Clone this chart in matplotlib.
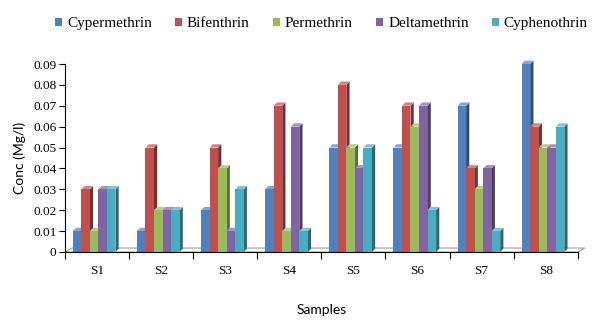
import numpy as np
import matplotlib
matplotlib.use("Agg")
import matplotlib.pyplot as plt
from matplotlib.patches import Polygon
from matplotlib.colors import to_rgb

samples = ["S1", "S2", "S3", "S4", "S5", "S6", "S7", "S8"]
series = ["Cypermethrin", "Bifenthrin", "Permethrin", "Deltamethrin", "Cyphenothrin"]
cypermethrin = [0.01, 0.01, 0.02, 0.03, 0.05, 0.05, 0.07, 0.09]
bifenthrin = [0.03, 0.05, 0.05, 0.07, 0.08, 0.07, 0.04, 0.06]
permethrin = [0.01, 0.02, 0.04, 0.01, 0.05, 0.06, 0.03, 0.05]
deltamethrin = [0.03, 0.02, 0.01, 0.06, 0.04, 0.07, 0.04, 0.05]
cyphenothrin = [0.03, 0.02, 0.03, 0.01, 0.05, 0.02, 0.01, 0.06]
values = [cypermethrin, bifenthrin, permethrin, deltamethrin, cyphenothrin]
colors = ["#4F81BD", "#C0504D", "#9BBB59", "#8064A2", "#4BACC6"]

serif = ["Liberation Serif", "DejaVu Serif"]
sans = ["Lato", "DejaVu Sans"]


def shade(c, f):
    r, g, b = to_rgb(c)
    if f < 1:
        return (r * f, g * f, b * f)
    return (r + (1 - r) * (f - 1), g + (1 - g) * (f - 1), b + (1 - b) * (f - 1))


fig = plt.figure(figsize=(6, 3.2), dpi=100)
ax = fig.add_axes([0.108, 0.2125, 0.855, 0.5875])
ax.set_xlim(0, 8)
ax.set_ylim(0, 0.09)

bw = 0.133
start = 0.125
dx = 0.05
dy = 0.0016

# floor
fdx, fdy = 0.11, 0.0019
floor = Polygon([(0, 0), (8, 0), (8 + fdx, fdy), (fdx, fdy)], closed=True,
                facecolor="white", edgecolor="#A0A0A0", lw=0.8, clip_on=False, zorder=1)
ax.add_patch(floor)

for i in range(len(samples)):
    for j, (vals, c) in enumerate(zip(values, colors)):
        x0 = i + start + j * bw
        x1 = x0 + bw
        h = vals[i]
        z = 2 + j * 0.01
        ax.add_patch(Polygon([(x1, 0), (x1 + dx, dy), (x1 + dx, h + dy), (x1, h)],
                             closed=True, facecolor=shade(c, 0.6), edgecolor="none",
                             clip_on=False, zorder=z))
        ax.add_patch(Polygon([(x0, h), (x1, h), (x1 + dx, h + dy), (x0 + dx, h + dy)],
                             closed=True, facecolor=shade(c, 1.3), edgecolor="none",
                             clip_on=False, zorder=z))
        ax.bar(x0, h, width=bw, align="edge", color=c, edgecolor="none",
               zorder=z, clip_on=False, label=series[j] if i == 0 else None)

for s in ["top", "right"]:
    ax.spines[s].set_visible(False)
ax.spines["left"].set_color("black")
ax.spines["bottom"].set_color("black")
ax.spines["left"].set_linewidth(0.8)
ax.spines["bottom"].set_linewidth(0.8)

ax.set_yticks(np.arange(0, 0.091, 0.01))
ax.set_yticklabels(["0"] + ["%.2f" % v for v in np.arange(0.01, 0.091, 0.01)],
                   family=serif, fontsize=9.5)
ax.set_xticks(np.arange(0, 9))
ax.set_xticklabels([])
ax.set_xticks(np.arange(8) + 0.5, minor=True)
ax.set_xticklabels(samples, minor=True, family=serif, fontsize=9.5)
ax.tick_params(axis="x", which="minor", length=0, pad=9)
ax.tick_params(axis="x", which="major", length=5, width=0.8)
ax.tick_params(axis="y", length=4, width=0.8, pad=2)

ax.set_ylabel("Conc (Mg/l)", family=sans, fontsize=10, labelpad=5)
ax.set_xlabel("Samples", family=sans, fontsize=10, labelpad=20)

ax.legend(loc="center", bbox_to_anchor=(0.5, 1.213), ncol=5, frameon=False,
          prop={"family": serif, "size": 11}, handlelength=0.5, handleheight=0.5,
          handletextpad=0.3, columnspacing=1.5)

fig.savefig("out.png", dpi=100)
